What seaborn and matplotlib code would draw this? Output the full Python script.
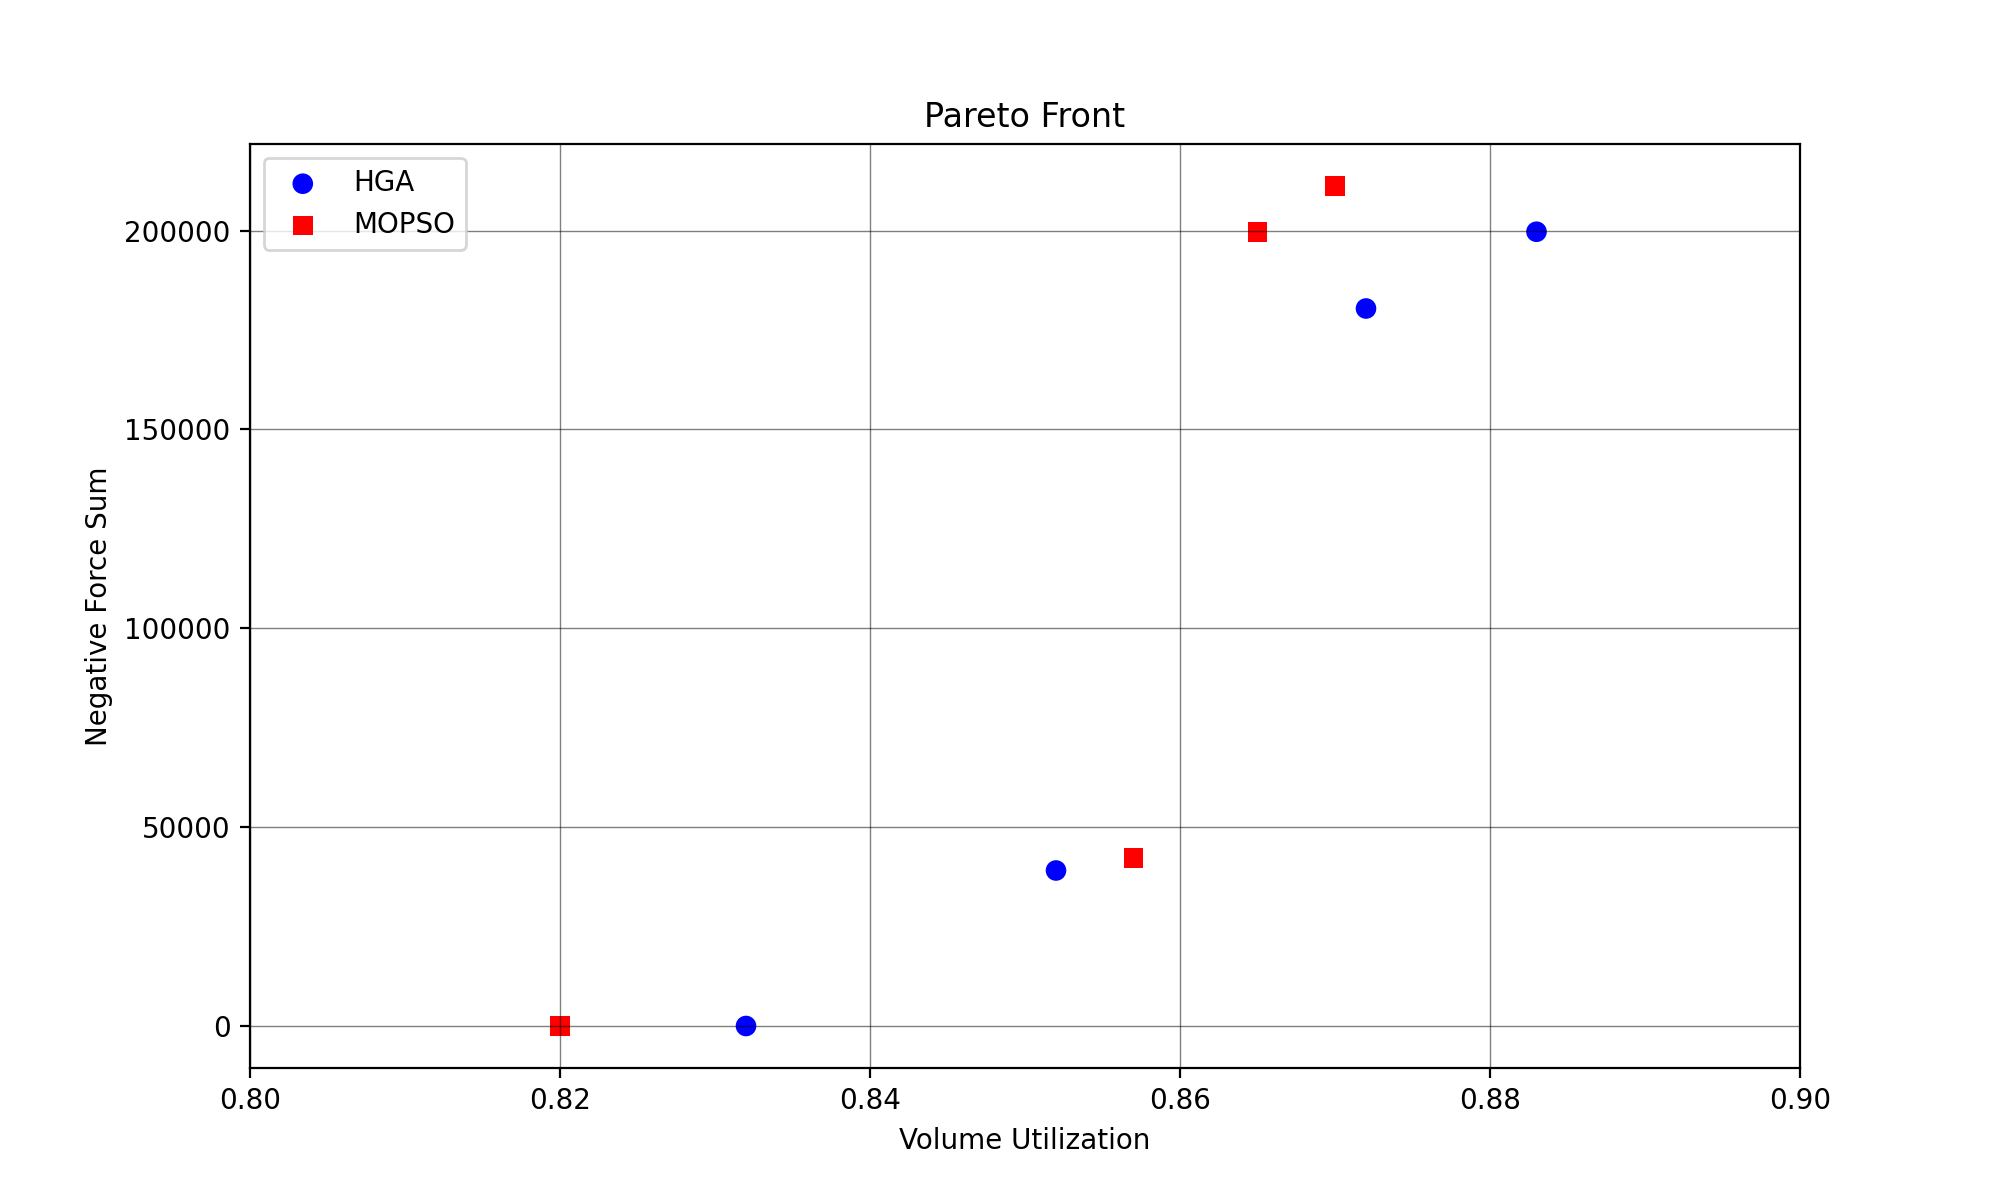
import matplotlib
matplotlib.use("Agg")
import matplotlib.pyplot as plt
import seaborn as sns
import pandas as pd

hga_x = [0.832, 0.852, 0.872, 0.883]
hga_y = [0, 39100, 180400, 199700]
mopso_x = [0.820, 0.857, 0.865, 0.870]
mopso_y = [0, 42300, 199700, 211200]

df_h = pd.DataFrame({"x": hga_x, "y": hga_y})
df_m = pd.DataFrame({"x": mopso_x, "y": mopso_y})

fig, ax = plt.subplots(figsize=(10, 6), dpi=200)
sns.scatterplot(data=df_h, x="x", y="y", ax=ax, color="blue", marker="o", s=55,
                edgecolor="none", label="HGA", zorder=1)
sns.scatterplot(data=df_m, x="x", y="y", ax=ax, color="red", marker="s", s=50,
                edgecolor="none", label="MOPSO", zorder=1)
ax.set_xlim(0.80, 0.90)
ax.set_title("Pareto Front")
ax.set_xlabel("Volume Utilization")
ax.set_ylabel("Negative Force Sum")
ax.grid(True, color="black", linewidth=0.5, alpha=0.5)
ax.set_axisbelow(False)
ax.legend(loc="upper left")
fig.savefig("out.png")
